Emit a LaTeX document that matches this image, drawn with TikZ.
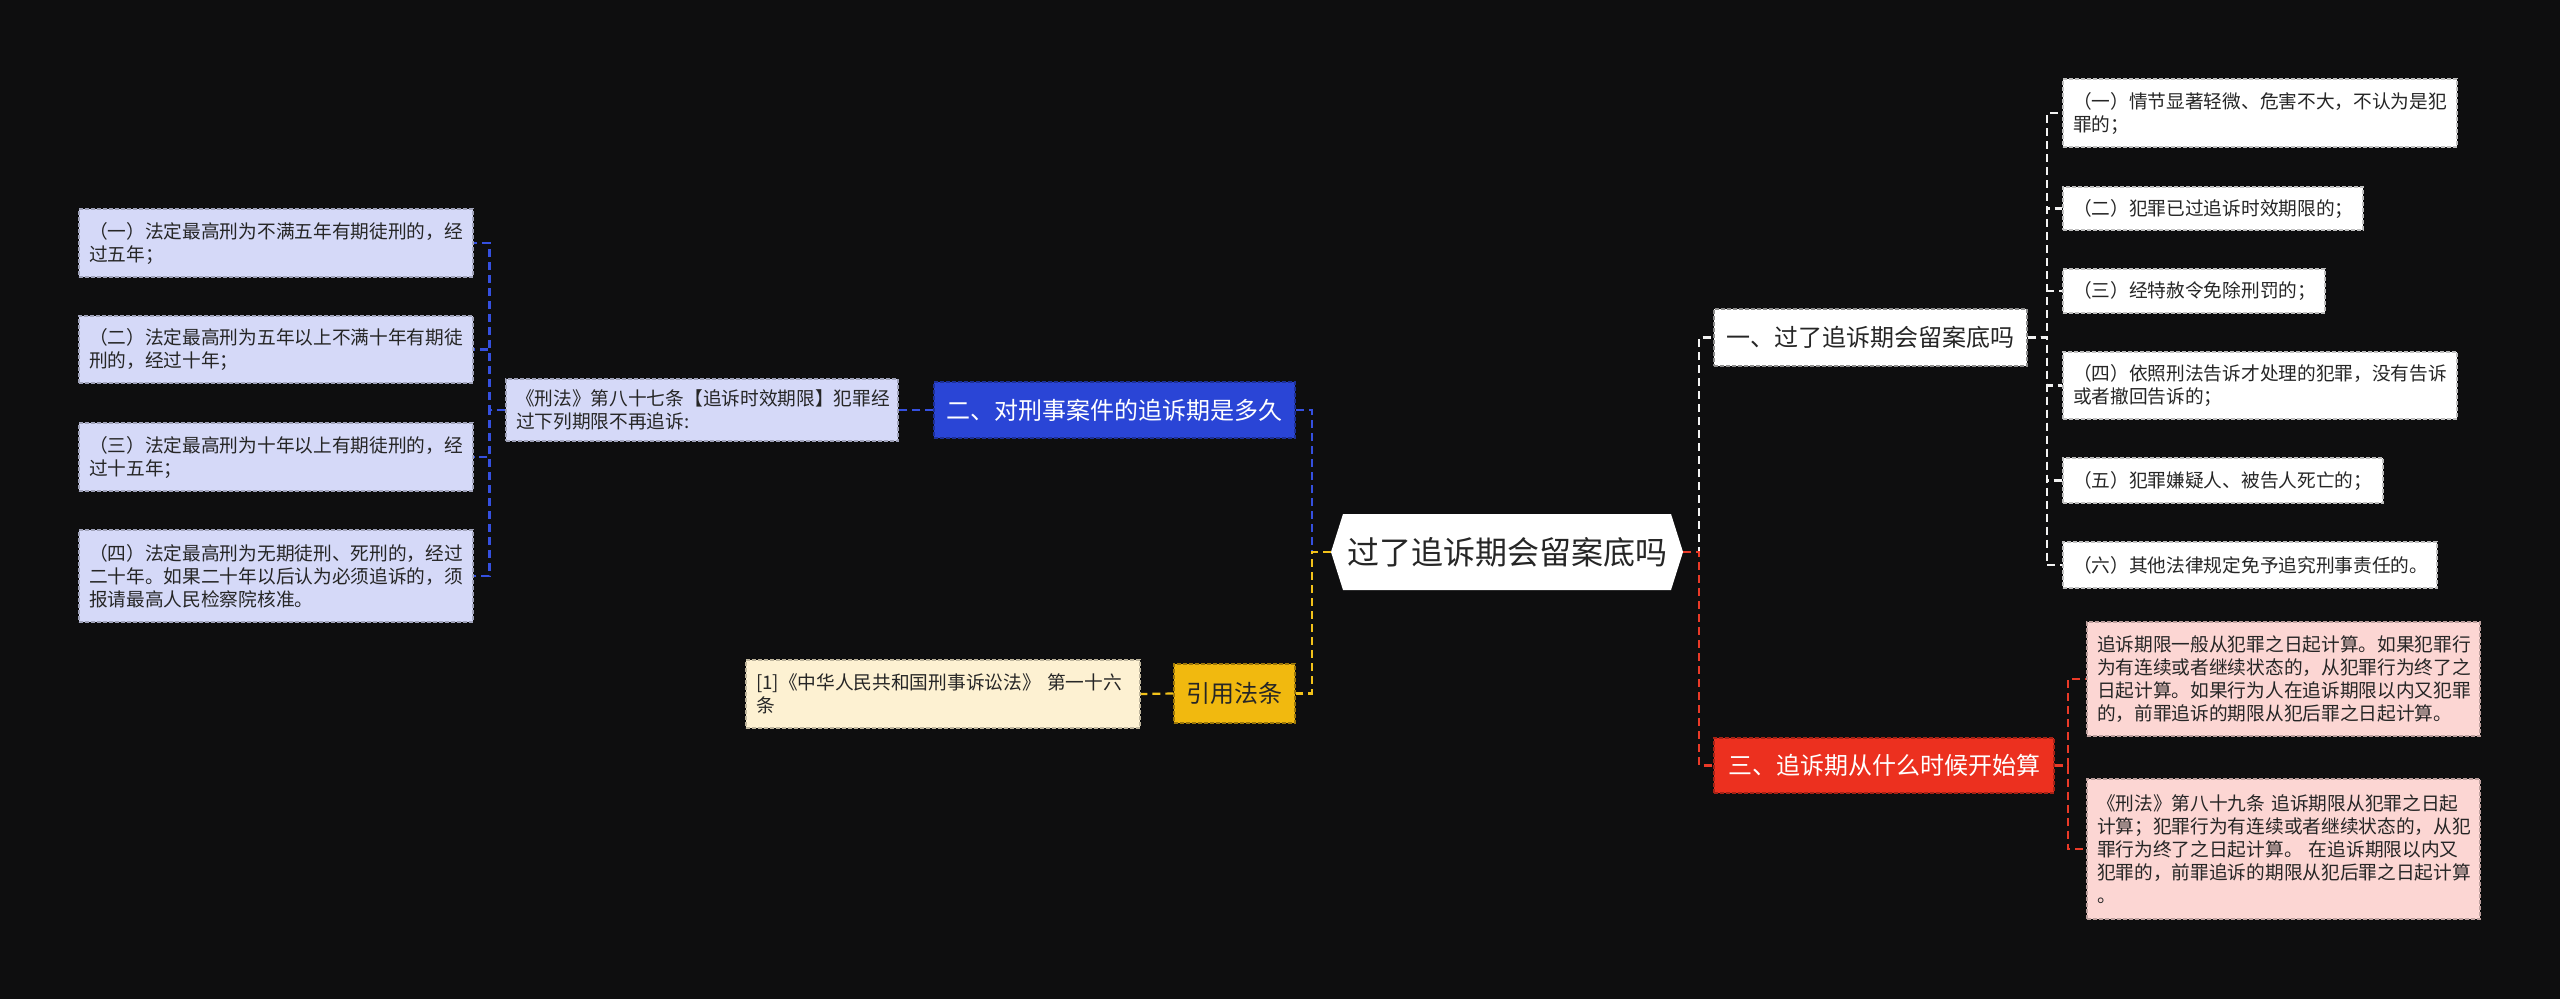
\documentclass[tikz,border=0pt]{standalone}
\usepackage{fontspec}
\setmainfont{Noto Sans CJK SC}
\usetikzlibrary{calc}
\definecolor{bg}{HTML}{0E0E0F}
\definecolor{cblue}{HTML}{2A45D6}
\definecolor{clav}{HTML}{D5D9F8}
\definecolor{cred}{HTML}{EC301F}
\definecolor{cpink}{HTML}{FCD6D3}
\definecolor{cyel}{HTML}{F1B90F}
\definecolor{ccream}{HTML}{FDF1D2}
\definecolor{ctext}{HTML}{262626}
\definecolor{lblue}{HTML}{3550E0}
\definecolor{lred}{HTML}{EA3A28}
\definecolor{lyel}{HTML}{F2C21A}
\definecolor{lwhite}{HTML}{F2F2F2}
\tikzset{
  box/.style={draw, dashed, dash pattern=on 4pt off 2pt, line width=1.2pt, inner xsep=0pt, inner ysep=0pt, anchor=center},
  leaf/.style={box, font=\fontsize{18.7}{23}\selectfont, text=ctext, align=left},
  branch/.style={box, font=\fontsize{24}{28}\selectfont, align=center},
  conn/.style={line width=2.2pt, dash pattern=on 8pt off 5pt},
}
\newcommand{\leafnode}[7]{% name, cx, cy, w, h, fill, text
  \node[leaf, fill=#6, draw=#6!75!black, minimum width=#4pt, minimum height=#5pt, text width=#4pt-20pt] (#1) at (#2,#3) {#7};}
\begin{document}
\begin{tikzpicture}[x=1pt,y=-1pt]
\fill[bg] (0,0) rectangle (2560,999);
\useasboundingbox (0,0) rectangle (2560,999);

% root hexagon
\fill[white] (1331,552) -- (1343,514) -- (1671,514) -- (1683,552) -- (1671,590) -- (1343,590) -- cycle;
\node[font=\fontsize{32}{36}\selectfont, text=ctext, minimum width=352pt, minimum height=76pt, inner sep=0pt] (root) at (1507,552) {过了追诉期会留案底吗};

% branches
\node[branch, fill=white, draw=white!55!black, text=ctext, minimum width=313pt, minimum height=57pt] (b1) at (1870.5,337.5) {一、过了追诉期会留案底吗};
\node[branch, fill=cblue, draw=cblue!70!black, text=white, minimum width=361pt, minimum height=56pt] (b2) at (1114.5,410) {二、对刑事案件的追诉期是多久};
\node[branch, fill=cred, draw=cred!70!black, text=white, minimum width=340pt, minimum height=55pt] (b3) at (1884,765.5) {三、追诉期从什么时候开始算};
\node[branch, fill=cyel, draw=cyel!65!black, text=ctext, minimum width=121pt, minimum height=59pt] (b4) at (1234.5,693.5) {引用法条};

% blue subtree
\leafnode{c2}{702}{410}{392}{62}{clav}{《刑法》第八十七条【追诉时效期限】犯罪经\\过下列期限不再追诉:}
\leafnode{g1}{276}{243}{394}{68}{clav}{（一）法定最高刑为不满五年有期徒刑的，经\\过五年；}
\leafnode{g2}{276}{349.5}{394}{67}{clav}{（二）法定最高刑为五年以上不满十年有期徒\\刑的，经过十年；}
\leafnode{g3}{276}{457}{394}{68}{clav}{（三）法定最高刑为十年以上有期徒刑的，经\\过十五年；}
\leafnode{g4}{276}{576}{394}{92}{clav}{（四）法定最高刑为无期徒刑、死刑的，经过\\二十年。如果二十年以后认为必须追诉的，须\\报请最高人民检察院核准。}

% yellow subtree
\leafnode{c4}{943}{694}{394}{68}{ccream}{[1]《中华人民共和国刑事诉讼法》 第一十六\\条}

% white subtree
\leafnode{w1}{2260}{113}{394}{68}{white}{（一）情节显著轻微、危害不大，不认为是犯\\罪的；}
\leafnode{w2}{2213}{208.5}{300}{43}{white}{（二）犯罪已过追诉时效期限的；}
\leafnode{w3}{2194}{291}{262}{44}{white}{（三）经特赦令免除刑罚的；}
\leafnode{w4}{2260}{385.5}{394}{67}{white}{（四）依照刑法告诉才处理的犯罪，没有告诉\\或者撤回告诉的；}
\leafnode{w5}{2223}{480.5}{320}{45}{white}{（五）犯罪嫌疑人、被告人死亡的；}
\leafnode{w6}{2250}{565}{374}{46}{white}{（六）其他法律规定免予追究刑事责任的。}

% red subtree
\leafnode{r1}{2283.5}{679}{393}{114}{cpink}{追诉期限一般从犯罪之日起计算。如果犯罪行\\为有连续或者继续状态的，从犯罪行为终了之\\日起计算。如果行为人在追诉期限以内又犯罪\\的，前罪追诉的期限从犯后罪之日起计算。}
\leafnode{r2}{2283.5}{849}{393}{140}{cpink}{《刑法》第八十九条 追诉期限从犯罪之日起\\计算；犯罪行为有连续或者继续状态的，从犯\\罪行为终了之日起计算。 在追诉期限以内又\\犯罪的，前罪追诉的期限从犯后罪之日起计算\\。}

% connectors root -> branches
\draw[conn, lblue] (root.west) -- ++(-19,0) |- (b2.east);
\draw[conn, lyel] (root.west) -- ++(-19,0) |- (b4.east);
\draw[conn, lwhite] (root.east) -- ++(16,0) |- (b1.west);
\draw[conn, lred] (root.east) -- ++(16,0) |- (b3.west);

% blue
\draw[conn, lblue] (b2.west) -- (c2.east);
\foreach \g in {g1,g2,g3,g4}{
  \draw[conn, lblue] (c2.west) -- ++(-16,0) |- (\g.east);
}
% yellow
\draw[conn, lyel] (b4.west) -- (c4.east);
% white
\foreach \w in {w1,w2,w3,w4,w5,w6}{
  \draw[conn, lwhite] (b1.east) -- ++(19,0) |- (\w.west);
}
% red
\foreach \r in {r1,r2}{
  \draw[conn, lred] (b3.east) -- ++(13,0) |- (\r.west);
}
\end{tikzpicture}
\end{document}
